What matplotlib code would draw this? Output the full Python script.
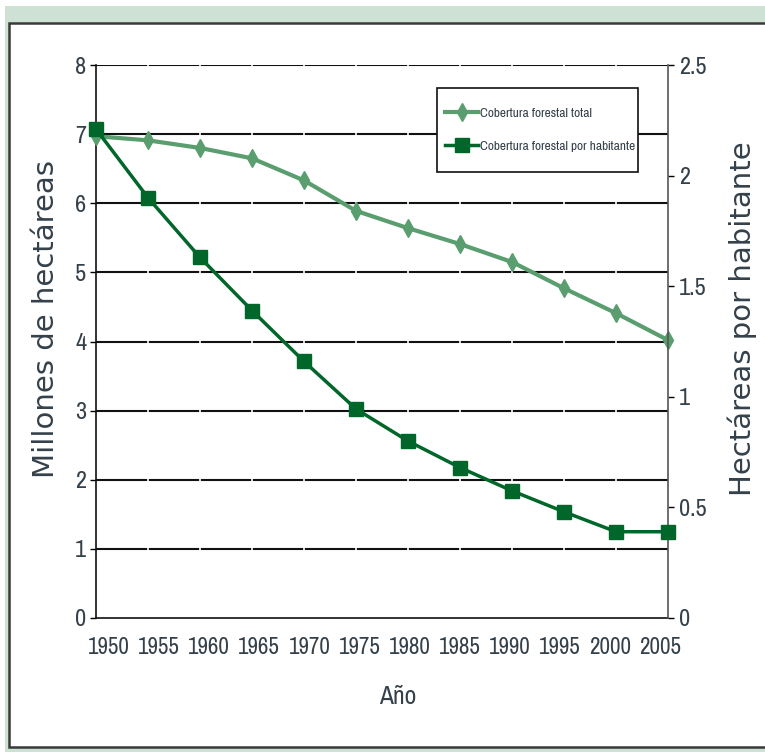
import numpy as np
import matplotlib.pyplot as plt
from matplotlib.patches import Rectangle
from matplotlib import font_manager

years = ['1950', '1955', '1960', '1965', '1970', '1975', '1980', '1985',
         '1990', '1995', '2000', '2005']
total = [6.97, 6.91, 6.80, 6.65, 6.33, 5.89, 5.64, 5.41, 5.15, 4.77, 4.41, 4.02]
per_cap = [2.21, 1.90, 1.63, 1.39, 1.16, 0.945, 0.80, 0.68, 0.575, 0.48, 0.39, 0.39]

light = '#5a9e6f'
dark = '#006629'
txt = '#34404a'

names = {f.name for f in font_manager.fontManager.ttflist}
narrow = None
for cand in ['Liberation Sans Narrow', 'Arial Narrow', 'Pragati Narrow', 'Archivo Narrow',
             'PT Sans Narrow', 'Roboto Condensed', 'Fira Sans Condensed',
             'IBM Plex Sans Condensed']:
    if cand in names:
        narrow = cand
        break
tick_size = 18
if narrow is None:
    narrow = 'Liberation Sans'
    tick_size = 14

fig = plt.figure(figsize=(7.65, 7.52), dpi=100)
W, H = 765, 752
# frame: green band + bordered white panel
fig.patches.append(Rectangle((5 / W, 0), 1, 1 - 6 / H, transform=fig.transFigure,
                             facecolor='#cde2d4', edgecolor='none', zorder=-3))
fig.patches.append(Rectangle((9 / W, 1 - 747 / H), 1.0, (747 - 23) / H,
                             transform=fig.transFigure, facecolor='white',
                             edgecolor='#3a3a3a', linewidth=1.8, zorder=-2))

ax = fig.add_axes([96 / W, 1 - 618 / H, (668 - 96) / W, (618 - 65) / H])
ax.set_facecolor('none')
x = np.arange(len(years))

for v in range(1, 9):
    ax.axhline(v, color='#111111', linewidth=1.5, zorder=1)
for xi in x[1:-1]:
    ax.axvline(xi, color='white', linewidth=1.2, zorder=1.5)

ax.set_xlim(0, len(years) - 1)
ax.set_ylim(0, 8)
# category labels sit slightly inside the first/last points, as in the original
label_pos = (109 + x * (660 - 109) / 11 - 96) / 52
ax.set_xticks(label_pos)
ax.set_xticklabels(years)
ax.set_yticks(range(0, 9))
ax.tick_params(axis='x', length=0, pad=14, labelsize=tick_size, labelcolor=txt)
ax.tick_params(axis='y', length=4, width=1, direction='out', pad=3, labelsize=tick_size + 1,
               labelcolor=txt)
for lab in ax.get_xticklabels() + ax.get_yticklabels():
    lab.set_fontfamily(narrow)
for s in ['left', 'bottom']:
    ax.spines[s].set_color('#111111')
    ax.spines[s].set_linewidth(1.2)
ax.spines['top'].set_visible(False)
ax.spines['right'].set_visible(False)

l1, = ax.plot(x, total, color=light, linewidth=3, marker='d', markersize=9,
              label='Cobertura forestal total', zorder=3, clip_on=False)
ax.set_ylabel('Millones de hectáreas', fontsize=21, color=txt, fontfamily='DejaVu Sans')
ax.yaxis.set_label_coords((60 - 96) / 572, (618 - 319) / 553)
ax.set_xlabel('Año', fontsize=20, color=txt, fontfamily=narrow)
ax.xaxis.set_label_coords((398 - 96) / 572, -(697 - 618) / 553)
ax.xaxis.label.set_va('center')

ax2 = ax.twinx()
ax2.set_ylim(0, 2.5)
ax2.set_yticks([0, 0.5, 1, 1.5, 2, 2.5])
ax2.set_yticklabels(['0', '0.5', '1', '1.5', '2', '2.5'])
ax2.tick_params(axis='y', length=4, width=1, direction='out', pad=4, labelsize=tick_size + 1,
                labelcolor=txt)
for lab in ax2.get_yticklabels():
    lab.set_fontfamily(narrow)
ax2.spines['right'].set_color('#555555')
ax2.spines['right'].set_linewidth(1.2)
for s in ['left', 'bottom', 'top']:
    ax2.spines[s].set_visible(False)
l2, = ax2.plot(x, per_cap, color=dark, linewidth=2.5, marker='s', markersize=10,
               label='Cobertura forestal por habitante', zorder=3, clip_on=False)
ax2.set_ylabel('Hectáreas por habitante', fontsize=21, color=txt, fontfamily='DejaVu Sans')
ax2.yaxis.set_label_coords((728 - 96) / 572, (618 - 319) / 553)

# legend box (uneven padding in the original, so drawn separately)
ax2.add_patch(Rectangle((437 / W, 1 - 172 / H), 201 / W, 84 / H, transform=fig.transFigure,
                        facecolor='white', edgecolor='#111111', linewidth=1.2,
                        zorder=4, clip_on=False))
leg = ax2.legend(handles=[l1, l2], loc='upper left',
                 bbox_to_anchor=((439 - 96) / 572, 1 - (101 - 65) / 553),
                 prop={'family': narrow, 'size': 10.5}, frameon=False,
                 borderpad=0.4, labelspacing=1.45,
                 handlelength=2.3, handletextpad=0.1, borderaxespad=0)
leg.set_zorder(5)
for t in leg.get_texts():
    t.set_color(txt)

fig.savefig('out.png', dpi=100)
